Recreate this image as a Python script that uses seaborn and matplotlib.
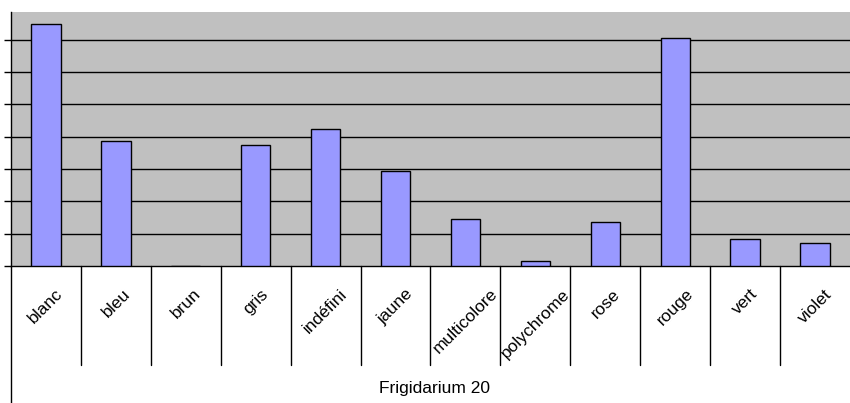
import matplotlib
matplotlib.use("Agg")
import matplotlib.pyplot as plt
import matplotlib.transforms as mtransforms
import seaborn as sns

categories = ["blanc", "bleu", "brun", "gris", "indéfini", "jaune", "multicolore",
              "polychrome", "rose", "rouge", "vert", "violet"]
values = [7.48, 3.88, 0, 3.73, 4.25, 2.95, 1.46, 0.16, 1.37, 7.05, 0.84, 0.71]
y_ticks = [0, 1, 2, 3, 4, 5, 6, 7]
title = "Frigidarium 20"

sns.set_style("white")
plt.rcParams["font.family"] = ["Liberation Sans", "DejaVu Sans"]
plt.rcParams["text.color"] = "black"

fig = plt.figure(figsize=(8.5, 4.03), dpi=100)
ax = fig.add_axes([11 / 850, 137 / 403, 839 / 850, 254 / 403])
ax.set_facecolor("#c0c0c0")

sns.barplot(x=categories, y=values, color="#9999ff", saturation=1,
            edgecolor="black", linewidth=1, width=0.42, ax=ax, zorder=3)

ax.set_xlim(-0.5, len(categories) - 0.5)
ax.set_ylim(0, 7.86)
ax.set_yticks(y_ticks)
ax.set_yticklabels([])
ax.tick_params(axis="y", direction="out", length=5, width=1, color="black", left=True)
ax.set_xticks([])
ax.set_xlabel("")
ax.set_ylabel("")
for t in y_ticks[1:]:
    ax.axhline(t, color="black", lw=1, zorder=1)

for side in ["top", "right"]:
    ax.spines[side].set_visible(False)
ax.spines["bottom"].set_color("black")
ax.spines["left"].set_color("black")
ax.spines["left"].set_linewidth(1)
ax.spines["bottom"].set_linewidth(1)

# category table below the plot area
trans = mtransforms.blended_transform_factory(ax.transData, ax.transAxes)
for i in range(len(categories) - 1):
    ax.plot([i + 0.5, i + 0.5], [0, -0.39], color="black", lw=1,
            transform=trans, clip_on=False, zorder=5)
ax.plot([-0.5, -0.5], [0, -0.54], color="black", lw=1, transform=trans, clip_on=False)

for i, name in enumerate(categories):
    label = ax.text(i, -0.08, name, transform=trans, rotation=45, ha="center", va="top",
                    fontsize=12.5, color="black")
    # labels are cut at the cell borders, as in the table
    cell = mtransforms.TransformedBbox(
        mtransforms.Bbox([[i - 0.5, -0.39], [i + 0.5, 0]]), trans)
    label.set_clip_path(None)
    label.set_clip_box(cell)
    label.set_clip_on(True)

fig.text(435 / 850, 15 / 403, title, ha="center", va="center", fontsize=12.5, color="black")

fig.savefig("out.png", dpi=100)
